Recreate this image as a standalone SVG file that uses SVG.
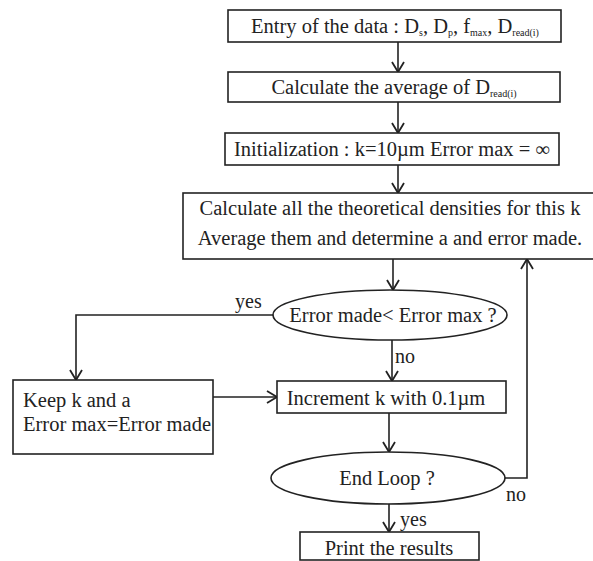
<svg xmlns="http://www.w3.org/2000/svg" width="593" height="561" viewBox="0 0 593 561">
<style>
.box{fill:#fff;stroke:#222;stroke-width:1.6}
.ln{fill:none;stroke:#222;stroke-width:1.6}
.t{font-family:"Liberation Serif","Times New Roman",serif;font-size:20.5px;fill:#222}
.c{text-anchor:middle}
.s{font-size:10px}
.lbl{font-family:"Liberation Serif","Times New Roman",serif;font-size:20px;fill:#222}
</style>
<defs>
<marker id="ah" viewBox="-12 -8 14 16" refX="0" refY="0" markerWidth="14" markerHeight="16" markerUnits="userSpaceOnUse" orient="auto">
<path d="M-10,-6 L0,0 L-10,6" fill="none" stroke="#222" stroke-width="1.8"/>
</marker>
</defs>
<rect width="593" height="561" fill="#fff"/>
<g id="connectors">
<line class="ln" x1="398" y1="42" x2="398" y2="72" marker-end="url(#ah)"/>
<line class="ln" x1="398" y1="102" x2="398" y2="133" marker-end="url(#ah)"/>
<line class="ln" x1="398" y1="165" x2="398" y2="193" marker-end="url(#ah)"/>
<line class="ln" x1="393" y1="259" x2="393" y2="290" marker-end="url(#ah)"/>
<polyline class="ln" points="273,315 76,315 76,380" marker-end="url(#ah)"/>
<line class="ln" x1="392" y1="340" x2="392" y2="381" marker-end="url(#ah)"/>
<line class="ln" x1="213" y1="397" x2="277" y2="397" marker-end="url(#ah)"/>
<line class="ln" x1="389" y1="413" x2="389" y2="452" marker-end="url(#ah)"/>
<polyline class="ln" points="505,478 527,478 527,259" marker-end="url(#ah)"/>
<line class="ln" x1="389" y1="504" x2="389" y2="532" marker-end="url(#ah)"/>
<text class="lbl" x="235" y="308">yes</text>
<text class="lbl" x="395" y="363">no</text>
<text class="lbl" x="506" y="501">no</text>
<text class="lbl" x="400" y="526">yes</text>
</g>
<g id="entry">
<rect class="box" x="228" y="10" width="333" height="32"/>
<text class="t c" x="395" y="33">Entry of the data : D<tspan class="s" dy="3">s</tspan><tspan dy="-3">, D</tspan><tspan class="s" dy="3">p</tspan><tspan dy="-3">, f</tspan><tspan class="s" dy="3">max</tspan><tspan dy="-3">, D</tspan><tspan class="s" dy="3">read(i)</tspan></text>
</g>
<g id="average">
<rect class="box" x="228" y="72" width="332" height="30"/>
<text class="t c" x="394" y="94">Calculate the average of D<tspan class="s" dy="3">read(i)</tspan></text>
</g>
<g id="init">
<rect class="box" x="225" y="133" width="334" height="32"/>
<text class="t c" x="392" y="156">Initialization : k=10µm Error max = ∞</text>
</g>
<g id="calc">
<rect class="box" x="183" y="193" width="413" height="66"/>
<text class="t c" x="390" y="215">Calculate all the theoretical densities for this k</text>
<text class="t c" x="390" y="245">Average them and determine a and error made.</text>
</g>
<g id="decision1">
<ellipse class="box" cx="390" cy="315" rx="117" ry="25"/>
<text class="t c" x="393" y="322">Error made&lt; Error max ?</text>
</g>
<g id="keep">
<rect class="box" x="13" y="380" width="200" height="74"/>
<text class="t" x="23" y="407">Keep k and a</text>
<text class="t" x="23" y="431">Error max=Error made</text>
</g>
<g id="increment">
<rect class="box" x="277" y="381" width="229" height="32"/>
<text class="t c" x="386" y="405">Increment k with 0.1µm</text>
</g>
<g id="endloop">
<ellipse class="box" cx="388" cy="478" rx="117" ry="26"/>
<text class="t c" x="387" y="485">End Loop ?</text>
</g>
<g id="print">
<rect class="box" x="300" y="532" width="179" height="28"/>
<text class="t c" x="389" y="555">Print the results</text>
</g>
</svg>
